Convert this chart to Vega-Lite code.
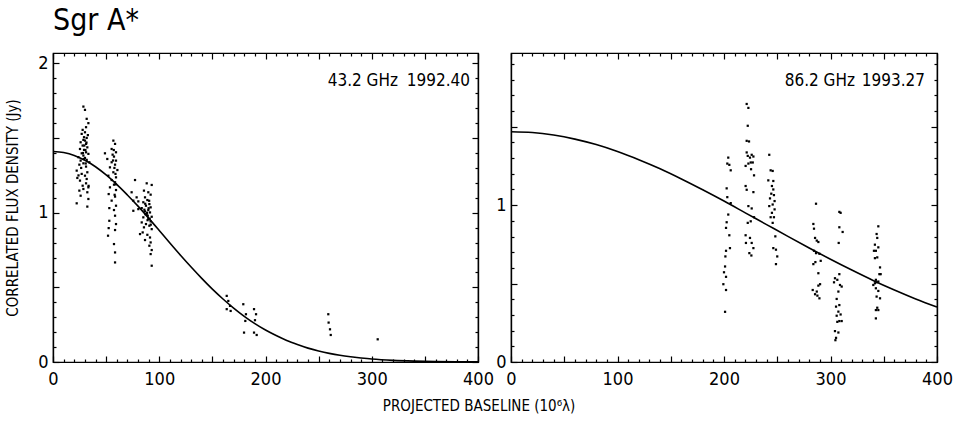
{
  "$schema": "https://vega.github.io/schema/vega-lite/v6.json",
  "background": "white",
  "padding": {"left": 5, "top": 5, "right": 5, "bottom": 5},
  "bounds": "flush",
  "spacing": 33,
  "title": {"text": "PROJECTED BASELINE (10⁶λ)", "orient": "bottom", "anchor": "middle", "fontSize": 15, "fontWeight": "normal", "color": "black", "offset": 10},
  "datasets": {
    "L": [
      {"x":28.6,"y":1.711},{"x":30.1,"y":1.689},{"x":31.7,"y":1.629},{"x":33.3,"y":1.6},{"x":31.1,"y":1.573},{"x":27.9,"y":1.555},{"x":30.1,"y":1.539},{"x":27.0,"y":1.528},{"x":29.2,"y":1.506},{"x":31.7,"y":1.501},{"x":28.6,"y":1.488},{"x":30.1,"y":1.483},{"x":26.0,"y":1.472},{"x":31.1,"y":1.461},{"x":27.9,"y":1.45},{"x":32.3,"y":1.438},{"x":25.4,"y":1.427},{"x":29.2,"y":1.421},{"x":31.1,"y":1.405},{"x":27.0,"y":1.398},{"x":33.3,"y":1.394},{"x":28.6,"y":1.383},{"x":23.9,"y":1.372},{"x":30.1,"y":1.367},{"x":31.7,"y":1.354},{"x":26.0,"y":1.349},{"x":34.2,"y":1.338},{"x":28.6,"y":1.331},{"x":24.8,"y":1.322},{"x":31.1,"y":1.309},{"x":22.3,"y":1.282},{"x":32.3,"y":1.271},{"x":27.0,"y":1.26},{"x":30.1,"y":1.248},{"x":22.9,"y":1.233},{"x":31.7,"y":1.226},{"x":25.4,"y":1.215},{"x":31.1,"y":1.197},{"x":27.9,"y":1.181},{"x":33.3,"y":1.17},{"x":28.6,"y":1.159},{"x":24.8,"y":1.148},{"x":32.3,"y":1.137},{"x":26.0,"y":1.114},{"x":33.3,"y":1.092},{"x":22.3,"y":1.063},{"x":32.3,"y":1.041},
      {"x":29.5,"y":1.45},{"x":30.5,"y":1.42},{"x":31.5,"y":1.47},{"x":29.0,"y":1.36},{"x":30.8,"y":1.33},{"x":28.2,"y":1.4},{"x":32.8,"y":1.52},{"x":26.5,"y":1.3},{"x":24.0,"y":1.25},{"x":33.5,"y":1.18},
      {"x":56.8,"y":1.483},{"x":58.4,"y":1.461},{"x":55.2,"y":1.427},{"x":59.3,"y":1.405},{"x":48.9,"y":1.398},{"x":56.1,"y":1.389},{"x":57.4,"y":1.376},{"x":51.1,"y":1.36},{"x":59.3,"y":1.349},{"x":55.2,"y":1.338},{"x":58.4,"y":1.322},{"x":53.6,"y":1.304},{"x":60.6,"y":1.286},{"x":56.8,"y":1.271},{"x":52.1,"y":1.248},{"x":59.3,"y":1.237},{"x":55.2,"y":1.219},{"x":58.4,"y":1.204},{"x":57.4,"y":1.188},{"x":53.6,"y":1.17},{"x":59.3,"y":1.152},{"x":52.4,"y":1.125},{"x":58.4,"y":1.108},{"x":55.2,"y":1.081},{"x":59.3,"y":1.047},{"x":53.0,"y":1.031},{"x":57.4,"y":1.018},{"x":58.4,"y":0.98},{"x":53.0,"y":0.946},{"x":59.3,"y":0.924},{"x":52.4,"y":0.897},{"x":58.4,"y":0.884},{"x":51.8,"y":0.846},{"x":57.4,"y":0.79},{"x":58.4,"y":0.734},{"x":58.4,"y":0.667},
      {"x":57.8,"y":1.3},{"x":58.8,"y":1.26},{"x":56.5,"y":1.35},{"x":59.0,"y":1.19},{"x":57.2,"y":1.42},{"x":58.0,"y":1.12},
      {"x":77.2,"y":1.219},{"x":74.0,"y":1.137},{"x":78.7,"y":1.103},{"x":75.6,"y":1.081},{"x":80.3,"y":1.076},{"x":88.2,"y":1.197},{"x":92.9,"y":1.186},{"x":85.6,"y":1.148},{"x":89.7,"y":1.137},{"x":91.9,"y":1.121},{"x":86.6,"y":1.103},{"x":88.8,"y":1.085},{"x":85.0,"y":1.07},{"x":90.7,"y":1.058},{"x":87.5,"y":1.047},{"x":91.9,"y":1.036},{"x":83.5,"y":1.031},{"x":89.7,"y":1.018},{"x":86.6,"y":1.009},{"x":91.3,"y":1.002},{"x":88.2,"y":0.991},{"x":92.9,"y":0.973},{"x":85.0,"y":0.969},{"x":89.7,"y":0.958},{"x":91.9,"y":0.942},{"x":83.5,"y":0.935},{"x":87.5,"y":0.924},{"x":90.7,"y":0.913},{"x":85.6,"y":0.902},{"x":92.9,"y":0.89},{"x":84.4,"y":0.868},{"x":88.8,"y":0.852},{"x":91.3,"y":0.834},{"x":86.6,"y":0.817},{"x":91.9,"y":0.801},{"x":90.7,"y":0.779},{"x":92.9,"y":0.75},{"x":91.9,"y":0.723},{"x":92.9,"y":0.645},{"x":81.9,"y":0.857},{"x":75.6,"y":1.013},{"x":80.3,"y":1.024},
      {"x":88.5,"y":1.0},{"x":89.2,"y":0.98},{"x":90.0,"y":1.03},{"x":87.0,"y":0.99},{"x":91.0,"y":0.96},{"x":86.0,"y":1.02},{"x":89.0,"y":0.95},{"x":92.0,"y":0.92},{"x":90.5,"y":1.08},{"x":86.8,"y":1.06},
      {"x":163.5,"y":0.443},{"x":165.0,"y":0.409},{"x":166.6,"y":0.376},{"x":163.5,"y":0.354},{"x":167.2,"y":0.342},
      {"x":179.1,"y":0.387},{"x":181.6,"y":0.32},{"x":181.0,"y":0.275},{"x":179.8,"y":0.197},
      {"x":189.2,"y":0.354},{"x":191.1,"y":0.32},{"x":190.1,"y":0.28},{"x":189.2,"y":0.197},{"x":191.7,"y":0.181},
      {"x":259.1,"y":0.32},{"x":259.4,"y":0.264},{"x":260.7,"y":0.219},{"x":261.4,"y":0.181},
      {"x":305.6,"y":0.152}
    ],
    "LC": [
      {"x":0,"y":1.41},{"x":10,"y":1.403},{"x":20,"y":1.384},{"x":30,"y":1.351},{"x":40,"y":1.308},{"x":50,"y":1.253},{"x":60,"y":1.19},{"x":70,"y":1.119},{"x":80,"y":1.044},{"x":90,"y":0.964},{"x":100,"y":0.881},{"x":110,"y":0.797},{"x":120,"y":0.715},{"x":130,"y":0.636},{"x":140,"y":0.56},{"x":150,"y":0.488},{"x":160,"y":0.422},{"x":170,"y":0.361},{"x":180,"y":0.306},{"x":190,"y":0.257},{"x":200,"y":0.214},{"x":210,"y":0.177},{"x":220,"y":0.144},{"x":230,"y":0.117},{"x":240,"y":0.093},{"x":250,"y":0.074},{"x":260,"y":0.058},{"x":270,"y":0.045},{"x":280,"y":0.035},{"x":290,"y":0.027},{"x":300,"y":0.02},{"x":320,"y":0.011},{"x":340,"y":0.006},{"x":360,"y":0.003},{"x":380,"y":0.0016},{"x":400,"y":0.0008}
    ],
    "LT1": [{"x":324.7,"y":1.88,"label":"43.2 GHz"}],
    "LT2": [{"x":392.5,"y":1.88,"label":"1992.40"}],
    "R": [
      {"x":204.0,"y":1.303},{"x":203.1,"y":1.265},{"x":205.0,"y":1.257},{"x":206.3,"y":1.222},{"x":202.5,"y":1.107},{"x":203.1,"y":1.051},{"x":206.3,"y":1.013},{"x":204.0,"y":0.94},{"x":202.5,"y":0.891},{"x":201.9,"y":0.855},{"x":205.0,"y":0.808},{"x":205.6,"y":0.726},{"x":201.9,"y":0.709},{"x":201.3,"y":0.673},{"x":201.0,"y":0.609},{"x":200.0,"y":0.572},{"x":201.9,"y":0.543},{"x":199.4,"y":0.496},{"x":201.9,"y":0.459},{"x":201.0,"y":0.32},
      {"x":221.3,"y":1.645},{"x":222.9,"y":1.62},{"x":222.3,"y":1.506},{"x":221.3,"y":1.41},{"x":223.5,"y":1.406},{"x":221.3,"y":1.336},{"x":222.3,"y":1.314},{"x":224.4,"y":1.303},{"x":226.0,"y":1.321},{"x":227.6,"y":1.31},{"x":225.1,"y":1.272},{"x":222.9,"y":1.265},{"x":227.0,"y":1.272},{"x":220.3,"y":1.25},{"x":225.4,"y":1.229},{"x":228.2,"y":1.19},{"x":220.3,"y":1.122},{"x":221.3,"y":1.098},{"x":227.6,"y":1.083},{"x":222.9,"y":0.994},{"x":226.0,"y":0.979},{"x":228.2,"y":0.923},{"x":225.1,"y":0.897},{"x":222.3,"y":0.887},{"x":220.3,"y":0.808},{"x":224.4,"y":0.791},{"x":220.6,"y":0.759},{"x":226.0,"y":0.759},{"x":227.6,"y":0.726},{"x":223.8,"y":0.694},{"x":225.7,"y":0.679},
      {"x":242.5,"y":1.321},{"x":243.8,"y":1.222},{"x":245.7,"y":1.218},{"x":241.6,"y":1.158},{"x":246.3,"y":1.154},{"x":245.0,"y":1.122},{"x":246.3,"y":1.1},{"x":244.4,"y":1.073},{"x":246.9,"y":1.064},{"x":243.2,"y":1.043},{"x":247.5,"y":1.026},{"x":245.7,"y":1.004},{"x":242.5,"y":0.994},{"x":247.5,"y":0.973},{"x":245.0,"y":0.951},{"x":243.8,"y":0.923},{"x":246.9,"y":0.923},{"x":245.7,"y":0.887},{"x":246.3,"y":0.726},{"x":248.8,"y":0.716},{"x":250.0,"y":0.673},{"x":248.8,"y":0.624},{"x":248.2,"y":0.801},
      {"x":286.4,"y":1.009},{"x":283.9,"y":0.88},{"x":284.5,"y":0.85},{"x":285.5,"y":0.791},{"x":287.1,"y":0.774},{"x":288.6,"y":0.765},{"x":284.5,"y":0.709},{"x":286.4,"y":0.694},{"x":289.6,"y":0.69},{"x":290.8,"y":0.645},{"x":283.9,"y":0.624},{"x":285.8,"y":0.637},{"x":288.6,"y":0.566},{"x":290.2,"y":0.496},{"x":288.6,"y":0.487},{"x":283.3,"y":0.459},{"x":287.1,"y":0.449},{"x":285.5,"y":0.432},{"x":289.6,"y":0.406},{"x":287.7,"y":0.423},
      {"x":308.3,"y":0.957},{"x":309.5,"y":0.951},{"x":308.3,"y":0.859},{"x":311.4,"y":0.829},{"x":307.7,"y":0.759},{"x":308.3,"y":0.56},{"x":304.2,"y":0.534},{"x":306.4,"y":0.524},{"x":308.9,"y":0.491},{"x":310.5,"y":0.481},{"x":303.3,"y":0.508},{"x":307.4,"y":0.449},{"x":305.8,"y":0.402},{"x":308.3,"y":0.363},{"x":305.2,"y":0.353},{"x":307.4,"y":0.321},{"x":305.8,"y":0.295},{"x":309.5,"y":0.303},{"x":308.3,"y":0.261},{"x":306.4,"y":0.256},{"x":310.5,"y":0.261},{"x":304.2,"y":0.197},{"x":307.4,"y":0.188},{"x":305.2,"y":0.154},{"x":304.6,"y":0.139},
      {"x":344.9,"y":0.865},{"x":343.3,"y":0.816},{"x":343.9,"y":0.791},{"x":341.7,"y":0.748},{"x":344.9,"y":0.731},{"x":340.8,"y":0.709},{"x":342.6,"y":0.709},{"x":343.9,"y":0.667},{"x":341.7,"y":0.662},{"x":346.5,"y":0.603},{"x":345.9,"y":0.56},{"x":347.1,"y":0.56},{"x":342.6,"y":0.524},{"x":341.7,"y":0.502},{"x":343.3,"y":0.508},{"x":344.9,"y":0.513},{"x":340.2,"y":0.491},{"x":342.6,"y":0.47},{"x":344.9,"y":0.453},{"x":346.5,"y":0.406},{"x":343.3,"y":0.417},{"x":343.9,"y":0.346},{"x":342.6,"y":0.331},{"x":344.9,"y":0.331},{"x":342.6,"y":0.278}
    ],
    "RC": [
      {"x":0,"y":1.468},{"x":20,"y":1.463},{"x":40,"y":1.447},{"x":60,"y":1.421},{"x":80,"y":1.386},{"x":100,"y":1.342},{"x":120,"y":1.29},{"x":140,"y":1.232},{"x":160,"y":1.167},{"x":180,"y":1.098},{"x":200,"y":1.026},{"x":220,"y":0.951},{"x":240,"y":0.876},{"x":260,"y":0.801},{"x":280,"y":0.727},{"x":300,"y":0.655},{"x":320,"y":0.586},{"x":340,"y":0.52},{"x":360,"y":0.459},{"x":380,"y":0.402},{"x":400,"y":0.35}
    ],
    "RT1": [{"x":323,"y":1.79,"label":"86.2 GHz"}],
    "RT2": [{"x":388.7,"y":1.79,"label":"1993.27"}]
  },
  "hconcat": [
    {
      "width": 425,
      "height": 309,
      "title": {"text": "Sgr A*", "anchor": "start", "frame": "group", "fontSize": 30, "fontWeight": "normal", "color": "black", "offset": 16},
      "layer": [
        {
          "data": {"name": "L"},
          "mark": {"type": "point", "shape": "square", "filled": true, "size": 5, "color": "black", "opacity": 1},
          "encoding": {
            "x": {"field": "x", "type": "quantitative", "scale": {"domain": [0, 400], "nice": false, "zero": false},
              "axis": {"orient": "bottom", "title": null, "values": [0,50,100,150,200,250,300,350,400], "tickSize": -6,
                "labelExpr": "datum.value % 100 === 0 ? datum.label : ''", "labelPadding": 14, "labelFlush": false, "labelOverlap": false}},
            "y": {"field": "y", "type": "quantitative", "scale": {"domain": [0, 2.07], "nice": false, "zero": false},
              "axis": {"orient": "left", "title": "CORRELATED FLUX DENSITY (Jy)", "values": [0,0.5,1,1.5,2],
                "labelExpr": "datum.value === 0 ? '0' : datum.value === 1 ? '1' : datum.value === 2 ? '2' : ''", "tickSize": -6, "labelPadding": 11, "labelOverlap": false, "titlePadding": 17}}
          }
        },
        {
          "data": {"name": "LC"},
          "mark": {"type": "line", "color": "black", "strokeWidth": 1.6, "interpolate": "monotone"},
          "encoding": {
            "x": {"field": "x", "type": "quantitative", "axis": {"orient": "top", "title": null, "labels": false, "values": [0,50,100,150,200,250,300,350,400], "tickSize": -6}},
            "y": {"field": "y", "type": "quantitative", "axis": {"orient": "right", "title": null, "labels": false, "values": [0,0.5,1,1.5,2], "tickSize": -6}}
          }
        },
        {
          "data": {"name": "LT1"},
          "mark": {"type": "text", "align": "right", "baseline": "middle", "fontSize": 17, "color": "black"},
          "encoding": {
            "x": {"field": "x", "type": "quantitative", "axis": {"orient": "bottom", "title": null, "labels": false, "values": [10,20,30,40,60,70,80,90,110,120,130,140,160,170,180,190,210,220,230,240,260,270,280,290,310,320,330,340,360,370,380,390], "tickSize": -3}},
            "y": {"field": "y", "type": "quantitative", "axis": {"orient": "left", "title": null, "labels": false, "values": [0.1,0.2,0.3,0.4,0.6,0.7,0.8,0.9,1.1,1.2,1.3,1.4,1.6,1.7,1.8,1.9], "tickSize": -3}},
            "text": {"field": "label"}
          }
        },
        {
          "data": {"name": "LT2"},
          "mark": {"type": "text", "align": "right", "baseline": "middle", "fontSize": 17, "color": "black"},
          "encoding": {
            "x": {"field": "x", "type": "quantitative", "axis": {"orient": "top", "title": null, "labels": false, "values": [10,20,30,40,60,70,80,90,110,120,130,140,160,170,180,190,210,220,230,240,260,270,280,290,310,320,330,340,360,370,380,390], "tickSize": -3}},
            "y": {"field": "y", "type": "quantitative", "axis": {"orient": "right", "title": null, "labels": false, "values": [0.1,0.2,0.3,0.4,0.6,0.7,0.8,0.9,1.1,1.2,1.3,1.4,1.6,1.7,1.8,1.9], "tickSize": -3}},
            "text": {"field": "label"}
          }
        }
      ],
      "resolve": {"axis": {"x": "independent", "y": "independent"}}
    },
    {
      "width": 426,
      "height": 309,
      "layer": [
        {
          "data": {"name": "R"},
          "mark": {"type": "point", "shape": "square", "filled": true, "size": 5, "color": "black", "opacity": 1},
          "encoding": {
            "x": {"field": "x", "type": "quantitative", "scale": {"domain": [0, 400], "nice": false, "zero": false},
              "axis": {"orient": "bottom", "title": null, "values": [0,50,100,150,200,250,300,350,400], "tickSize": -6,
                "labelExpr": "datum.value % 100 === 0 ? datum.label : ''", "labelPadding": 14, "labelFlush": false, "labelOverlap": false}},
            "y": {"field": "y", "type": "quantitative", "scale": {"domain": [0, 1.97], "nice": false, "zero": false},
              "axis": {"orient": "left", "title": null, "values": [0,0.5,1,1.5],
                "labelExpr": "datum.value === 0 ? '0' : datum.value === 1 ? '1' : ''", "tickSize": -6, "labelPadding": 11, "labelOverlap": false}}
          }
        },
        {
          "data": {"name": "RC"},
          "mark": {"type": "line", "color": "black", "strokeWidth": 1.6, "interpolate": "monotone"},
          "encoding": {
            "x": {"field": "x", "type": "quantitative", "axis": {"orient": "top", "title": null, "labels": false, "values": [0,50,100,150,200,250,300,350,400], "tickSize": -6}},
            "y": {"field": "y", "type": "quantitative", "axis": {"orient": "right", "title": null, "labels": false, "values": [0,0.5,1,1.5], "tickSize": -6}}
          }
        },
        {
          "data": {"name": "RT1"},
          "mark": {"type": "text", "align": "right", "baseline": "middle", "fontSize": 17, "color": "black"},
          "encoding": {
            "x": {"field": "x", "type": "quantitative", "axis": {"orient": "bottom", "title": null, "labels": false, "values": [10,20,30,40,60,70,80,90,110,120,130,140,160,170,180,190,210,220,230,240,260,270,280,290,310,320,330,340,360,370,380,390], "tickSize": -3}},
            "y": {"field": "y", "type": "quantitative", "axis": {"orient": "left", "title": null, "labels": false, "values": [0.1,0.2,0.3,0.4,0.6,0.7,0.8,0.9,1.1,1.2,1.3,1.4,1.6,1.7,1.8,1.9], "tickSize": -3}},
            "text": {"field": "label"}
          }
        },
        {
          "data": {"name": "RT2"},
          "mark": {"type": "text", "align": "right", "baseline": "middle", "fontSize": 17, "color": "black"},
          "encoding": {
            "x": {"field": "x", "type": "quantitative", "axis": {"orient": "top", "title": null, "labels": false, "values": [10,20,30,40,60,70,80,90,110,120,130,140,160,170,180,190,210,220,230,240,260,270,280,290,310,320,330,340,360,370,380,390], "tickSize": -3}},
            "y": {"field": "y", "type": "quantitative", "axis": {"orient": "right", "title": null, "labels": false, "values": [0.1,0.2,0.3,0.4,0.6,0.7,0.8,0.9,1.1,1.2,1.3,1.4,1.6,1.7,1.8,1.9], "tickSize": -3}},
            "text": {"field": "label"}
          }
        }
      ],
      "resolve": {"axis": {"x": "independent", "y": "independent"}}
    }
  ],
  "config": {
    "font": "'DejaVu Sans Condensed', 'Liberation Sans', sans-serif",
    "title": {"font": "'DejaVu Sans Condensed', 'Liberation Sans', sans-serif"},
    "text": {"font": "'DejaVu Sans Condensed', 'Liberation Sans', sans-serif"},
    "view": {"stroke": "black", "strokeWidth": 1.2},
    "axis": {
      "grid": false,
      "domain": true,
      "domainColor": "black",
      "domainWidth": 1.2,
      "tickColor": "black",
      "tickWidth": 1.2,
      "labelColor": "black",
      "labelFont": "'DejaVu Sans Condensed', 'Liberation Sans', sans-serif",
      "labelFontSize": 18,
      "titleColor": "black",
      "titleFont": "'DejaVu Sans Condensed', 'Liberation Sans', sans-serif",
      "titleFontSize": 15,
      "titleFontWeight": "normal"
    }
  }
}
